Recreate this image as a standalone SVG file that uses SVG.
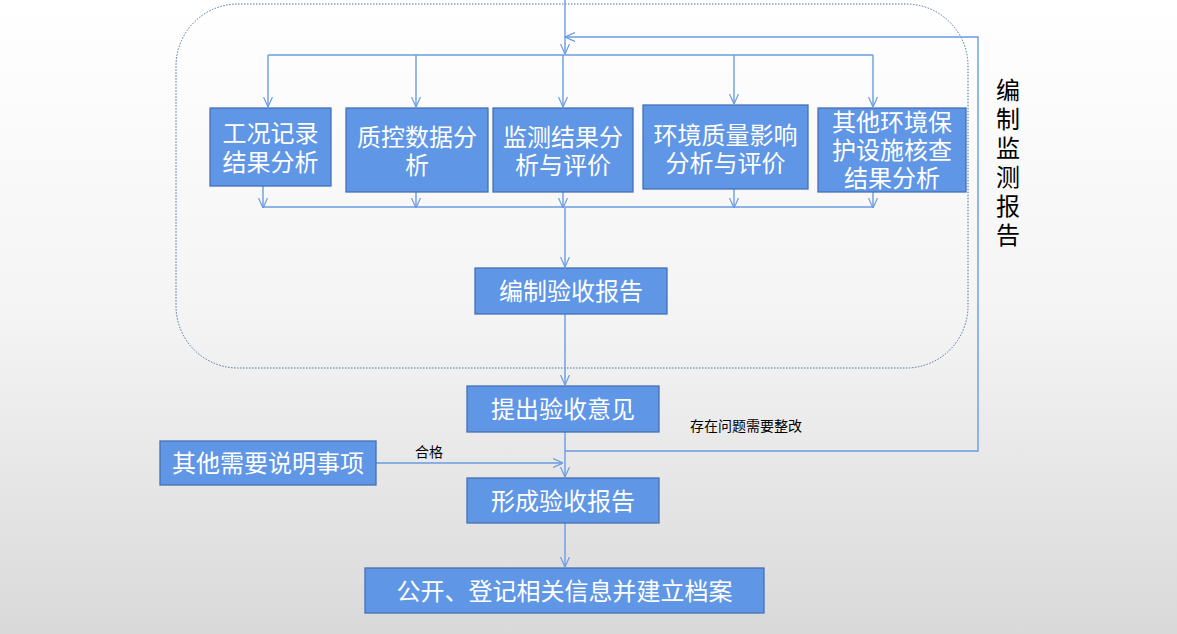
<svg xmlns="http://www.w3.org/2000/svg" width="1177" height="634" viewBox="0 0 1177 634">
<defs>
<linearGradient id="bg" x1="0" y1="0" x2="0" y2="1">
<stop offset="0" stop-color="#ffffff"/>
<stop offset="0.5" stop-color="#f4f4f4"/>
<stop offset="1" stop-color="#d9d9d9"/>
</linearGradient>
<marker id="a" viewBox="0 0 10 10" refX="10" refY="5" markerWidth="10" markerHeight="10" orient="auto" markerUnits="userSpaceOnUse">
<path d="M0,0.5 L10,5 L0,9.5" fill="none" stroke="#6a9be2" stroke-width="1.2"/>
</marker>
<style>
.box{fill:#5f96e5;stroke:#4571b5;stroke-width:1.3}
.t{font-family:"Liberation Sans","Noto Sans CJK SC",sans-serif;font-size:24px;fill:#ffffff;text-anchor:middle}
.c{fill:none;stroke:#6a9be2;stroke-width:1.4}
.ca{fill:none;stroke:#6a9be2;stroke-width:1.4;marker-end:url(#a)}
.lbl{font-family:"Liberation Sans","Noto Sans CJK SC",sans-serif;font-size:14px;fill:#000000}
.side{font-family:"Liberation Sans","Noto Sans CJK SC",sans-serif;font-size:24px;fill:#000000;text-anchor:middle}
</style>
</defs>
<rect x="0" y="0" width="1177" height="634" fill="url(#bg)"/>
<rect id="frame" x="176" y="4" width="792" height="364" rx="62" ry="62" fill="none" stroke="#4d6fa8" stroke-width="1" stroke-dasharray="1.5,1.5"/>

<g id="connectors">
<path class="ca" d="M565,0 V54"/>
<path class="ca" d="M565,451 H978 V37 H565"/>
<path class="c" d="M268,55 H873"/>
<path class="ca" d="M268,55 V107"/>
<path class="ca" d="M416,55 V107"/>
<path class="ca" d="M563,55 V107"/>
<path class="ca" d="M734,55 V104"/>
<path class="ca" d="M873,55 V107"/>
<path class="ca" d="M263,186 V208"/>
<path class="ca" d="M416,192 V208"/>
<path class="ca" d="M563,192 V208"/>
<path class="ca" d="M734,189 V208"/>
<path class="ca" d="M873,192 V208"/>
<path class="c" d="M263,207 H873"/>
<path class="ca" d="M565,208 V267"/>
<path class="ca" d="M565,314 V385"/>
<path class="ca" d="M565,432 V477"/>
<path class="ca" d="M376,463 H563"/>
<path class="ca" d="M565,523 V567"/>
</g>

<g id="n1"><rect class="box" x="210" y="108" width="121" height="78"/>
<text class="t"><tspan x="270.5" y="142">工况记录</tspan><tspan x="270.5" y="171">结果分析</tspan></text></g>
<g id="n2"><rect class="box" x="346" y="108" width="142" height="84"/>
<text class="t"><tspan x="417" y="146">质控数据分</tspan><tspan x="417" y="174">析</tspan></text></g>
<g id="n3"><rect class="box" x="493" y="108" width="140" height="84"/>
<text class="t"><tspan x="563" y="146">监测结果分</tspan><tspan x="563" y="174">析与评价</tspan></text></g>
<g id="n4"><rect class="box" x="643" y="105" width="165" height="84"/>
<text class="t"><tspan x="725.5" y="144">环境质量影响</tspan><tspan x="725.5" y="172">分析与评价</tspan></text></g>
<g id="n5"><rect class="box" x="818" y="108" width="148" height="84"/>
<text class="t"><tspan x="892" y="131">其他环境保</tspan><tspan x="892" y="159">护设施核查</tspan><tspan x="892" y="187">结果分析</tspan></text></g>
<g id="n6"><rect class="box" x="475" y="268" width="192" height="46"/>
<text class="t" x="571" y="300">编制验收报告</text></g>
<g id="n7"><rect class="box" x="467" y="386" width="192" height="46"/>
<text class="t" x="563" y="418">提出验收意见</text></g>
<g id="n8"><rect class="box" x="160" y="441" width="216" height="44"/>
<text class="t" x="268" y="472">其他需要说明事项</text></g>
<g id="n9"><rect class="box" x="467" y="478" width="192" height="45"/>
<text class="t" x="563" y="510">形成验收报告</text></g>
<g id="n10"><rect class="box" x="365" y="568" width="399" height="45"/>
<text class="t" x="564.5" y="600">公开、登记相关信息并建立档案</text></g>

<g id="labels">
<text class="lbl" x="690" y="431">存在问题需要整改</text>
<text class="lbl" x="415" y="457">合格</text>
<text class="side"><tspan x="1008" y="99">编</tspan><tspan x="1008" y="128">制</tspan><tspan x="1008" y="157">监</tspan><tspan x="1008" y="186">测</tspan><tspan x="1008" y="215">报</tspan><tspan x="1008" y="244">告</tspan></text>
</g>
</svg>
